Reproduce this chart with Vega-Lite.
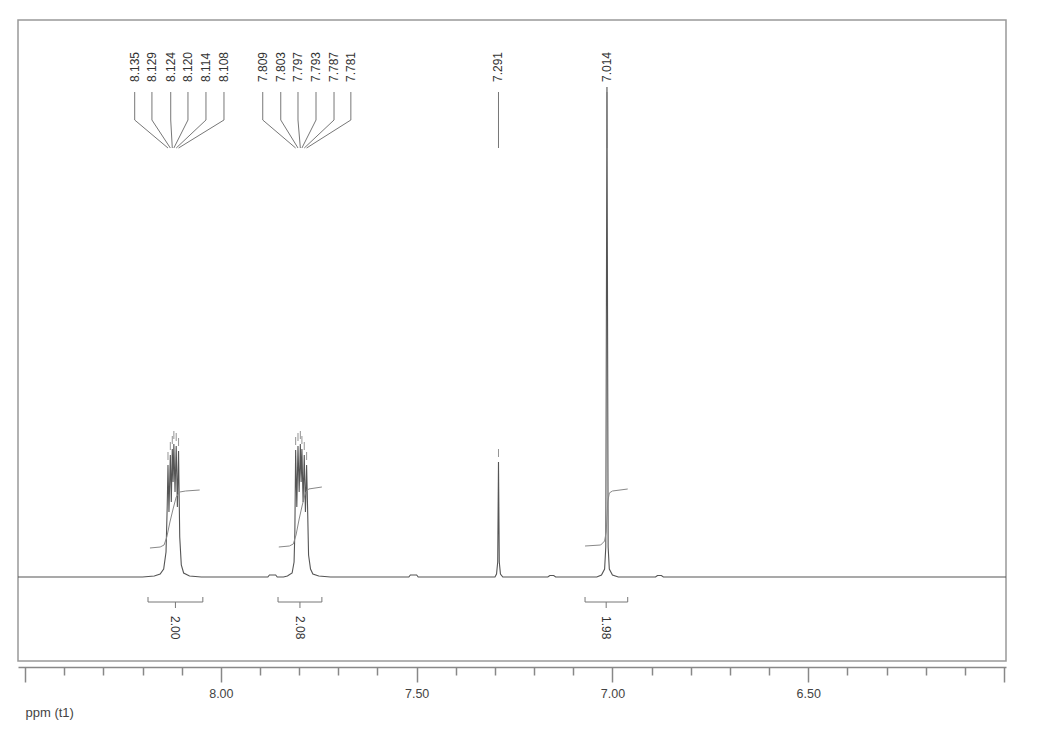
{
  "$schema": "https://vega.github.io/schema/vega-lite/v6.json",
  "width": 988,
  "height": 641,
  "autosize": {"type": "none"},
  "padding": {"left": 18, "top": 20, "right": 33, "bottom": 75},
  "background": "white",
  "config": {
    "view": {"stroke": "#999999", "strokeWidth": 1.5},
    "font": "Liberation Sans",
    "axisX": {
      "offset": 6,
      "grid": false,
      "domainColor": "#888888",
      "domainWidth": 1.5,
      "tickColor": "#888888",
      "tickWidth": 1.5,
      "labelFont": "Liberation Sans",
      "labelFontSize": 12.5,
      "labelColor": "#444444",
      "labelPadding": 5,
      "labelFlush": false,
      "labelOverlap": false,
      "titleFont": "Liberation Sans",
      "titleFontSize": 13,
      "titleFontWeight": "normal",
      "titleColor": "#444444",
      "titleAnchor": "start",
      "titleAlign": "left",
      "titleBaseline": "middle",
      "titleX": 7,
      "titleY": 45
    }
  },
  "datasets": {
    "spectrum": [
      {"ppm": 8.518, "intensity": 0}, {"ppm": 8.2, "intensity": 0}, {"ppm": 8.17, "intensity": 1},
      {"ppm": 8.155, "intensity": 3}, {"ppm": 8.146, "intensity": 8}, {"ppm": 8.14, "intensity": 25},
      {"ppm": 8.137, "intensity": 70}, {"ppm": 8.135, "intensity": 112}, {"ppm": 8.1325, "intensity": 65},
      {"ppm": 8.129, "intensity": 122}, {"ppm": 8.1265, "intensity": 75}, {"ppm": 8.124, "intensity": 128},
      {"ppm": 8.122, "intensity": 95}, {"ppm": 8.12, "intensity": 133}, {"ppm": 8.117, "intensity": 85},
      {"ppm": 8.114, "intensity": 131}, {"ppm": 8.111, "intensity": 70}, {"ppm": 8.108, "intensity": 126},
      {"ppm": 8.105, "intensity": 40}, {"ppm": 8.101, "intensity": 12}, {"ppm": 8.095, "intensity": 4},
      {"ppm": 8.08, "intensity": 1}, {"ppm": 8.05, "intensity": 0},
      {"ppm": 7.88, "intensity": 0}, {"ppm": 7.876, "intensity": 2}, {"ppm": 7.86, "intensity": 2}, {"ppm": 7.856, "intensity": 0},
      {"ppm": 7.84, "intensity": 0}, {"ppm": 7.83, "intensity": 1}, {"ppm": 7.818, "intensity": 4},
      {"ppm": 7.813, "intensity": 15}, {"ppm": 7.811, "intensity": 45}, {"ppm": 7.809, "intensity": 127},
      {"ppm": 7.806, "intensity": 70}, {"ppm": 7.803, "intensity": 131}, {"ppm": 7.8, "intensity": 85},
      {"ppm": 7.797, "intensity": 133}, {"ppm": 7.795, "intensity": 95}, {"ppm": 7.793, "intensity": 128},
      {"ppm": 7.79, "intensity": 75}, {"ppm": 7.787, "intensity": 122}, {"ppm": 7.784, "intensity": 65},
      {"ppm": 7.781, "intensity": 112}, {"ppm": 7.778, "intensity": 60}, {"ppm": 7.776, "intensity": 22},
      {"ppm": 7.771, "intensity": 8}, {"ppm": 7.765, "intensity": 3}, {"ppm": 7.75, "intensity": 1},
      {"ppm": 7.72, "intensity": 0},
      {"ppm": 7.52, "intensity": 0}, {"ppm": 7.516, "intensity": 2}, {"ppm": 7.5, "intensity": 2}, {"ppm": 7.496, "intensity": 0},
      {"ppm": 7.3, "intensity": 0}, {"ppm": 7.296, "intensity": 3}, {"ppm": 7.293, "intensity": 15},
      {"ppm": 7.291, "intensity": 115}, {"ppm": 7.289, "intensity": 15}, {"ppm": 7.286, "intensity": 3},
      {"ppm": 7.28, "intensity": 0},
      {"ppm": 7.165, "intensity": 0}, {"ppm": 7.16, "intensity": 1.5}, {"ppm": 7.15, "intensity": 1.5}, {"ppm": 7.145, "intensity": 0},
      {"ppm": 7.04, "intensity": 0}, {"ppm": 7.028, "intensity": 2}, {"ppm": 7.02, "intensity": 8},
      {"ppm": 7.017, "intensity": 30}, {"ppm": 7.014, "intensity": 490}, {"ppm": 7.011, "intensity": 30},
      {"ppm": 7.008, "intensity": 8}, {"ppm": 7.0, "intensity": 2}, {"ppm": 6.985, "intensity": 0},
      {"ppm": 6.89, "intensity": 0}, {"ppm": 6.885, "intensity": 1.5}, {"ppm": 6.875, "intensity": 1.5}, {"ppm": 6.87, "intensity": 0},
      {"ppm": 5.995, "intensity": 0}
    ],
    "integral": [
      {"region": "a", "ppm": 8.181, "intensity": 29}, {"region": "a", "ppm": 8.155, "intensity": 30},
      {"region": "a", "ppm": 8.145, "intensity": 32}, {"region": "a", "ppm": 8.138, "intensity": 40},
      {"region": "a", "ppm": 8.13, "intensity": 55}, {"region": "a", "ppm": 8.122, "intensity": 68},
      {"region": "a", "ppm": 8.114, "intensity": 80}, {"region": "a", "ppm": 8.105, "intensity": 85},
      {"region": "a", "ppm": 8.09, "intensity": 86}, {"region": "a", "ppm": 8.054, "intensity": 87},
      {"region": "b", "ppm": 7.852, "intensity": 30}, {"region": "b", "ppm": 7.825, "intensity": 31},
      {"region": "b", "ppm": 7.815, "intensity": 33}, {"region": "b", "ppm": 7.808, "intensity": 42},
      {"region": "b", "ppm": 7.8, "intensity": 58}, {"region": "b", "ppm": 7.792, "intensity": 72},
      {"region": "b", "ppm": 7.784, "intensity": 84}, {"region": "b", "ppm": 7.776, "intensity": 88},
      {"region": "b", "ppm": 7.742, "intensity": 90},
      {"region": "c", "ppm": 7.07, "intensity": 31}, {"region": "c", "ppm": 7.03, "intensity": 32},
      {"region": "c", "ppm": 7.02, "intensity": 36}, {"region": "c", "ppm": 7.016, "intensity": 45},
      {"region": "c", "ppm": 7.014, "intensity": 60}, {"region": "c", "ppm": 7.012, "intensity": 75},
      {"region": "c", "ppm": 7.008, "intensity": 84}, {"region": "c", "ppm": 7.0, "intensity": 86},
      {"region": "c", "ppm": 6.961, "intensity": 88}
    ],
    "peaks": [
      {"label": "8.135", "ppm": 8.135, "labelPpm": 8.22, "height": 112},
      {"label": "8.129", "ppm": 8.129, "labelPpm": 8.176, "height": 122},
      {"label": "8.124", "ppm": 8.124, "labelPpm": 8.128, "height": 128},
      {"label": "8.120", "ppm": 8.12, "labelPpm": 8.084, "height": 133},
      {"label": "8.114", "ppm": 8.114, "labelPpm": 8.038, "height": 131},
      {"label": "8.108", "ppm": 8.108, "labelPpm": 7.992, "height": 126},
      {"label": "7.809", "ppm": 7.809, "labelPpm": 7.893, "height": 127},
      {"label": "7.803", "ppm": 7.803, "labelPpm": 7.847, "height": 131},
      {"label": "7.797", "ppm": 7.797, "labelPpm": 7.803, "height": 133},
      {"label": "7.793", "ppm": 7.793, "labelPpm": 7.757, "height": 128},
      {"label": "7.787", "ppm": 7.787, "labelPpm": 7.711, "height": 122},
      {"label": "7.781", "ppm": 7.781, "labelPpm": 7.668, "height": 112},
      {"label": "7.291", "ppm": 7.291, "labelPpm": 7.291, "height": 115},
      {"label": "7.014", "ppm": 7.014, "labelPpm": 7.014, "height": 490}
    ],
    "integrations": [
      {"value": "2.00", "start": 8.186, "end": 8.046, "mid": 8.116},
      {"value": "2.08", "start": 7.854, "end": 7.742, "mid": 7.798},
      {"value": "1.98", "start": 7.07, "end": 6.961, "mid": 7.016}
    ]
  },
  "layer": [
    {
      "data": {"name": "spectrum"},
      "mark": {"type": "line", "color": "#555555", "strokeWidth": 1.1},
      "encoding": {
        "x": {
          "field": "ppm", "type": "quantitative",
          "scale": {"domain": [5.995, 8.518], "reverse": true, "nice": false, "zero": false},
          "axis": {"title": "ppm (t1)", "values": [8.5, 8.4, 8.3, 8.2, 8.1, 8.0, 7.9, 7.8, 7.7, 7.6, 7.5, 7.4, 7.3, 7.2, 7.1, 7.0, 6.9, 6.8, 6.7, 6.6, 6.5, 6.4, 6.3, 6.2, 6.1, 6.0], "tickSize": {"condition": {"test": "abs(datum.value*2 - round(datum.value*2)) < 0.001", "value": 15}, "value": 8}, "labelExpr": "(datum.value > 6.01 && datum.value < 8.49 && abs(datum.value*2 - round(datum.value*2)) < 0.001) ? format(datum.value, '.2f') : ''"}
        },
        "y": {"field": "intensity", "type": "quantitative", "scale": {"domain": [-84, 557], "nice": false, "zero": false}, "axis": null}
      }
    },
    {
      "data": {"name": "integral"},
      "mark": {"type": "line", "color": "#888888", "strokeWidth": 1},
      "encoding": {
        "x": {"field": "ppm", "type": "quantitative", "axis": {"title": "ppm (t1)", "values": [8.5, 8.4, 8.3, 8.2, 8.1, 8.0, 7.9, 7.8, 7.7, 7.6, 7.5, 7.4, 7.3, 7.2, 7.1, 7.0, 6.9, 6.8, 6.7, 6.6, 6.5, 6.4, 6.3, 6.2, 6.1, 6.0], "tickSize": {"condition": {"test": "abs(datum.value*2 - round(datum.value*2)) < 0.001", "value": 15}, "value": 8}, "labelExpr": "(datum.value > 6.01 && datum.value < 8.49 && abs(datum.value*2 - round(datum.value*2)) < 0.001) ? format(datum.value, '.2f') : ''"}},
        "y": {"field": "intensity", "type": "quantitative", "axis": null},
        "detail": {"field": "region", "type": "nominal"}
      }
    },
    {
      "data": {"name": "peaks"},
      "transform": [{"filter": "datum.height < 200"}],
      "mark": {"type": "tick", "orient": "vertical", "color": "#666666", "size": 8, "thickness": 1, "yOffset": -9},
      "encoding": {
        "x": {"field": "ppm", "type": "quantitative", "axis": {"title": "ppm (t1)", "values": [8.5, 8.4, 8.3, 8.2, 8.1, 8.0, 7.9, 7.8, 7.7, 7.6, 7.5, 7.4, 7.3, 7.2, 7.1, 7.0, 6.9, 6.8, 6.7, 6.6, 6.5, 6.4, 6.3, 6.2, 6.1, 6.0], "tickSize": {"condition": {"test": "abs(datum.value*2 - round(datum.value*2)) < 0.001", "value": 15}, "value": 8}, "labelExpr": "(datum.value > 6.01 && datum.value < 8.49 && abs(datum.value*2 - round(datum.value*2)) < 0.001) ? format(datum.value, '.2f') : ''"}},
        "y": {"field": "height", "type": "quantitative", "axis": null}
      }
    },
    {
      "data": {"name": "peaks"},
      "mark": {"type": "rule", "color": "#777777", "strokeWidth": 1},
      "encoding": {
        "x": {"field": "labelPpm", "type": "quantitative", "axis": {"title": "ppm (t1)", "values": [8.5, 8.4, 8.3, 8.2, 8.1, 8.0, 7.9, 7.8, 7.7, 7.6, 7.5, 7.4, 7.3, 7.2, 7.1, 7.0, 6.9, 6.8, 6.7, 6.6, 6.5, 6.4, 6.3, 6.2, 6.1, 6.0], "tickSize": {"condition": {"test": "abs(datum.value*2 - round(datum.value*2)) < 0.001", "value": 15}, "value": 8}, "labelExpr": "(datum.value > 6.01 && datum.value < 8.49 && abs(datum.value*2 - round(datum.value*2)) < 0.001) ? format(datum.value, '.2f') : ''"}},
        "y": {"datum": 457, "type": "quantitative", "axis": null},
        "y2": {"datum": 485}
      }
    },
    {
      "data": {"name": "peaks"},
      "mark": {"type": "rule", "color": "#777777", "strokeWidth": 1},
      "encoding": {
        "x": {"field": "labelPpm", "type": "quantitative", "axis": {"title": "ppm (t1)", "values": [8.5, 8.4, 8.3, 8.2, 8.1, 8.0, 7.9, 7.8, 7.7, 7.6, 7.5, 7.4, 7.3, 7.2, 7.1, 7.0, 6.9, 6.8, 6.7, 6.6, 6.5, 6.4, 6.3, 6.2, 6.1, 6.0], "tickSize": {"condition": {"test": "abs(datum.value*2 - round(datum.value*2)) < 0.001", "value": 15}, "value": 8}, "labelExpr": "(datum.value > 6.01 && datum.value < 8.49 && abs(datum.value*2 - round(datum.value*2)) < 0.001) ? format(datum.value, '.2f') : ''"}},
        "x2": {"field": "ppm"},
        "y": {"datum": 457, "type": "quantitative", "axis": null},
        "y2": {"datum": 429}
      }
    },
    {
      "data": {"name": "peaks"},
      "mark": {"type": "text", "angle": 270, "align": "left", "baseline": "middle", "font": "Liberation Sans", "fontSize": 12, "color": "#333333"},
      "encoding": {
        "x": {"field": "labelPpm", "type": "quantitative", "axis": {"title": "ppm (t1)", "values": [8.5, 8.4, 8.3, 8.2, 8.1, 8.0, 7.9, 7.8, 7.7, 7.6, 7.5, 7.4, 7.3, 7.2, 7.1, 7.0, 6.9, 6.8, 6.7, 6.6, 6.5, 6.4, 6.3, 6.2, 6.1, 6.0], "tickSize": {"condition": {"test": "abs(datum.value*2 - round(datum.value*2)) < 0.001", "value": 15}, "value": 8}, "labelExpr": "(datum.value > 6.01 && datum.value < 8.49 && abs(datum.value*2 - round(datum.value*2)) < 0.001) ? format(datum.value, '.2f') : ''"}},
        "y": {"datum": 495, "type": "quantitative", "axis": null},
        "text": {"field": "label", "type": "nominal"}
      }
    },
    {
      "data": {"name": "integrations"},
      "mark": {"type": "rule", "color": "#777777", "strokeWidth": 1},
      "encoding": {
        "x": {"field": "start", "type": "quantitative", "axis": {"title": "ppm (t1)", "values": [8.5, 8.4, 8.3, 8.2, 8.1, 8.0, 7.9, 7.8, 7.7, 7.6, 7.5, 7.4, 7.3, 7.2, 7.1, 7.0, 6.9, 6.8, 6.7, 6.6, 6.5, 6.4, 6.3, 6.2, 6.1, 6.0], "tickSize": {"condition": {"test": "abs(datum.value*2 - round(datum.value*2)) < 0.001", "value": 15}, "value": 8}, "labelExpr": "(datum.value > 6.01 && datum.value < 8.49 && abs(datum.value*2 - round(datum.value*2)) < 0.001) ? format(datum.value, '.2f') : ''"}},
        "x2": {"field": "end"},
        "y": {"datum": -25, "type": "quantitative", "axis": null}
      }
    },
    {
      "data": {"name": "integrations"},
      "mark": {"type": "rule", "color": "#777777", "strokeWidth": 1},
      "encoding": {
        "x": {"field": "start", "type": "quantitative", "axis": {"title": "ppm (t1)", "values": [8.5, 8.4, 8.3, 8.2, 8.1, 8.0, 7.9, 7.8, 7.7, 7.6, 7.5, 7.4, 7.3, 7.2, 7.1, 7.0, 6.9, 6.8, 6.7, 6.6, 6.5, 6.4, 6.3, 6.2, 6.1, 6.0], "tickSize": {"condition": {"test": "abs(datum.value*2 - round(datum.value*2)) < 0.001", "value": 15}, "value": 8}, "labelExpr": "(datum.value > 6.01 && datum.value < 8.49 && abs(datum.value*2 - round(datum.value*2)) < 0.001) ? format(datum.value, '.2f') : ''"}},
        "y": {"datum": -25, "type": "quantitative", "axis": null},
        "y2": {"datum": -20}
      }
    },
    {
      "data": {"name": "integrations"},
      "mark": {"type": "rule", "color": "#777777", "strokeWidth": 1},
      "encoding": {
        "x": {"field": "end", "type": "quantitative", "axis": {"title": "ppm (t1)", "values": [8.5, 8.4, 8.3, 8.2, 8.1, 8.0, 7.9, 7.8, 7.7, 7.6, 7.5, 7.4, 7.3, 7.2, 7.1, 7.0, 6.9, 6.8, 6.7, 6.6, 6.5, 6.4, 6.3, 6.2, 6.1, 6.0], "tickSize": {"condition": {"test": "abs(datum.value*2 - round(datum.value*2)) < 0.001", "value": 15}, "value": 8}, "labelExpr": "(datum.value > 6.01 && datum.value < 8.49 && abs(datum.value*2 - round(datum.value*2)) < 0.001) ? format(datum.value, '.2f') : ''"}},
        "y": {"datum": -25, "type": "quantitative", "axis": null},
        "y2": {"datum": -20}
      }
    },
    {
      "data": {"name": "integrations"},
      "mark": {"type": "rule", "color": "#777777", "strokeWidth": 1},
      "encoding": {
        "x": {"field": "mid", "type": "quantitative", "axis": {"title": "ppm (t1)", "values": [8.5, 8.4, 8.3, 8.2, 8.1, 8.0, 7.9, 7.8, 7.7, 7.6, 7.5, 7.4, 7.3, 7.2, 7.1, 7.0, 6.9, 6.8, 6.7, 6.6, 6.5, 6.4, 6.3, 6.2, 6.1, 6.0], "tickSize": {"condition": {"test": "abs(datum.value*2 - round(datum.value*2)) < 0.001", "value": 15}, "value": 8}, "labelExpr": "(datum.value > 6.01 && datum.value < 8.49 && abs(datum.value*2 - round(datum.value*2)) < 0.001) ? format(datum.value, '.2f') : ''"}},
        "y": {"datum": -25, "type": "quantitative", "axis": null},
        "y2": {"datum": -31}
      }
    },
    {
      "data": {"name": "integrations"},
      "mark": {"type": "text", "angle": 90, "align": "left", "baseline": "middle", "font": "Liberation Sans", "fontSize": 12, "color": "#333333"},
      "encoding": {
        "x": {"field": "mid", "type": "quantitative", "axis": {"title": "ppm (t1)", "values": [8.5, 8.4, 8.3, 8.2, 8.1, 8.0, 7.9, 7.8, 7.7, 7.6, 7.5, 7.4, 7.3, 7.2, 7.1, 7.0, 6.9, 6.8, 6.7, 6.6, 6.5, 6.4, 6.3, 6.2, 6.1, 6.0], "tickSize": {"condition": {"test": "abs(datum.value*2 - round(datum.value*2)) < 0.001", "value": 15}, "value": 8}, "labelExpr": "(datum.value > 6.01 && datum.value < 8.49 && abs(datum.value*2 - round(datum.value*2)) < 0.001) ? format(datum.value, '.2f') : ''"}},
        "y": {"datum": -39, "type": "quantitative", "axis": null},
        "text": {"field": "value", "type": "nominal"}
      }
    }
  ]
}
